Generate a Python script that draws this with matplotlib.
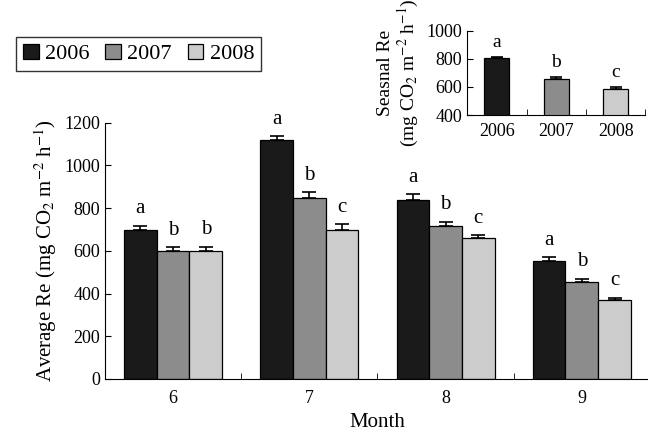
import numpy as np
import matplotlib.pyplot as plt
from matplotlib.ticker import FixedLocator

plt.rcParams['font.family'] = ['Liberation Serif', 'DejaVu Serif']
plt.rcParams['mathtext.fontset'] = 'stix'

months = ['6', '7', '8', '9']
years = ['2006', '2007', '2008']
colors = ['#1a1a1a', '#8c8c8c', '#cccccc']
re_2006 = [700, 1120, 840, 552]
re_2007 = [598, 850, 718, 452]
re_2008 = [598, 700, 658, 372]
err_2006 = [18, 18, 25, 18]
err_2007 = [18, 25, 18, 18]
err_2008 = [22, 25, 15, 8]
letters = [['a', 'b', 'b'], ['a', 'b', 'c'], ['a', 'b', 'c'], ['a', 'b', 'c']]

season = [803, 660, 588]
season_err = [10, 10, 10]
season_letters = ['a', 'b', 'c']

fig = plt.figure(figsize=(6.48, 4.34), dpi=100)
ax = fig.add_axes([0.162, 0.127, 0.841, 0.59])
w = 0.24
x = np.arange(1, 5)
vals = [re_2006, re_2007, re_2008]
errs = [err_2006, err_2007, err_2008]
for i in range(3):
    pos = x + (i - 1) * w
    e = np.array([np.zeros(4), errs[i]])
    ax.bar(pos, vals[i], w, color=colors[i], edgecolor='black', linewidth=0.9,
           yerr=e, capsize=5, error_kw=dict(elinewidth=1.2, capthick=1.2), label=years[i])
    for j in range(4):
        ax.text(pos[j], vals[i][j] + errs[i][j] + 35, letters[j][i], ha='center',
                va='bottom', fontsize=15)
ax.set_xlim(0.5, 4.5)
ax.set_ylim(0, 1200)
ax.set_yticks(range(0, 1201, 200))
ax.set_xticks(x)
ax.set_xticklabels(months)
ax.xaxis.set_minor_locator(FixedLocator([1.5, 2.5, 3.5, 4.5]))
ax.tick_params(axis='x', which='major', length=0, labelsize=13, pad=8)
ax.tick_params(axis='x', which='minor', length=4, direction='in')
ax.tick_params(axis='y', labelsize=13, direction='in', length=4)
ax.spines['top'].set_visible(False)
ax.spines['right'].set_visible(False)
ax.set_xlabel('Month', fontsize=15)
ax.set_ylabel('Average Re (mg CO$_2$ m$^{-2}$ h$^{-1}$)', fontsize=15)
leg = fig.legend(loc='upper left', bbox_to_anchor=(0.008, 0.94), ncol=3, fontsize=16,
                 frameon=True, fancybox=False, edgecolor='black', handlelength=0.7,
                 handleheight=0.7, columnspacing=0.7, handletextpad=0.3, borderpad=0.3)
leg.get_frame().set_linewidth(1)

ins = fig.add_axes([0.721, 0.735, 0.275, 0.194])
xi = np.arange(3)
ins.bar(xi, season, 0.42, color=colors, edgecolor='black', linewidth=0.9,
        yerr=[[0, 0, 0], season_err], capsize=4, error_kw=dict(elinewidth=1.2, capthick=1.2))
for i in range(3):
    ins.text(xi[i], season[i] + season_err[i] + 45, season_letters[i], ha='center',
             va='bottom', fontsize=14)
ins.set_ylim(400, 1000)
ins.set_xlim(-0.5, 2.5)
ins.set_yticks(range(400, 1001, 200))
ins.set_xticks(xi)
ins.set_xticklabels(years)
ins.xaxis.set_minor_locator(FixedLocator([0.5, 1.5, 2.5]))
ins.tick_params(axis='x', which='major', length=0, labelsize=13, pad=6)
ins.tick_params(axis='x', which='minor', length=4, direction='in')
ins.tick_params(axis='y', labelsize=13, direction='in', length=4)
ins.spines['top'].set_visible(False)
ins.spines['right'].set_visible(False)
ins.set_ylabel('Seasnal Re\n(mg CO$_2$ m$^{-2}$ h$^{-1}$)', fontsize=14, linespacing=1.1)

fig.savefig('out.png', dpi=100)
